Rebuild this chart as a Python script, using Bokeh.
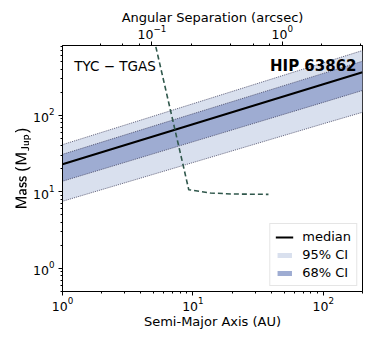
from bokeh.plotting import figure
from bokeh.models import (LogAxis, Range1d, LogScale, Label, Legend, LegendItem,
                          ColumnDataSource)
from bokeh.embed import file_html
from bokeh.resources import INLINE

# ---- data ----
sma_au = [1, 10, 100, 200]
mass_median = [23, 76.6, 255, 367]
mass_lo95 = [7.55, 24.2, 77.8, 110]
mass_hi95 = [41.5, 142, 487, 705]
mass_lo68 = [13.8, 45.2, 148, 212]
mass_hi68 = [31, 105, 354, 511]

limit_sma_au = [4.88, 9.3, 13.6, 20, 38]
limit_mass = [1260, 10.7, 9.7, 9.4, 9.3]

distance_pc = 48.5
x_limits = (1, 200)
y_limits = (0.5, 820)

FONT = "DejaVu Sans"
C95 = "#d9e0ee"
C68 = "#9eacd2"
EDGE = "#3d3d5c"
LIMIT = "#2f574b"

src = ColumnDataSource(dict(a=sma_au, med=mass_median, lo95=mass_lo95, hi95=mass_hi95,
                            lo68=mass_lo68, hi68=mass_hi68))
lim = ColumnDataSource(dict(a=limit_sma_au, m=limit_mass))

p = figure(frame_width=300, frame_height=246, x_axis_type="log", y_axis_type="log",
           x_range=Range1d(*x_limits), y_range=Range1d(*y_limits),
           output_backend="svg", toolbar_location=None,
           min_border_left=62, min_border_right=12, min_border_top=45, min_border_bottom=44)

p.extra_x_ranges = {"ang": Range1d(x_limits[0] / distance_pc, x_limits[1] / distance_pc)}
p.extra_x_scales = {"ang": LogScale()}
top = LogAxis(x_range_name="ang", axis_label="Angular Separation (arcsec)")
p.add_layout(top, "above")

r95 = p.varea(x="a", y1="lo95", y2="hi95", source=src, fill_color=C95)
r68 = p.varea(x="a", y1="lo68", y2="hi68", source=src, fill_color=C68)
for col in ["lo95", "hi95", "lo68", "hi68"]:
    p.line(x="a", y=col, source=src, line_color=EDGE, line_width=0.8, line_dash="1 1")
rmed = p.line(x="a", y="med", source=src, line_color="black", line_width=2)
p.line(x="a", y="m", source=lim, line_color=LIMIT, line_width=1.6, line_dash="5 3")

p.xgrid.visible = False
p.ygrid.visible = False
p.outline_line_color = "black"
p.outline_line_width = 1
p.background_fill_color = "white"
p.border_fill_color = "white"

bottom = p.below[0]
left = p.left[0]
bottom.axis_label = "Semi-Major Axis (AU)"
left.axis_label = r"$$\mathsf{Mass\ (M_{Jup})}$$"

for ax in [bottom, left, top]:
    ax.axis_label_text_font = FONT
    ax.axis_label_text_font_style = "normal"
    ax.axis_label_text_font_size = "13px"
    ax.axis_label_text_color = "black"
    ax.major_label_text_font = FONT
    ax.major_label_text_font_size = "12.5px"
    ax.major_label_text_color = "black"
    ax.major_tick_out = 4
    ax.major_tick_in = 0
    ax.minor_tick_out = 2
    ax.minor_tick_in = 0
    ax.axis_line_color = "black"
    ax.major_tick_line_color = "black"
    ax.minor_tick_line_color = "black"

bottom.major_label_standoff = 1
bottom.axis_label_standoff = 0
top.major_label_standoff = 3
top.axis_label_standoff = -3
left.major_label_standoff = 4
left.axis_label_standoff = -1

p.add_layout(Label(x=1.23, y=436, text="TYC \u2212 TGAS", text_font=FONT,
                   text_font_size="13.5px", text_color="black",
                   text_baseline="middle", text_align="left"))
p.add_layout(Label(x=180, y=436, text="HIP 63862", text_font=FONT,
                   text_font_size="15px", text_font_style="bold", text_color="black",
                   text_baseline="middle", text_align="right"))

legend = Legend(items=[LegendItem(label="median", renderers=[rmed]),
                       LegendItem(label="95% CI", renderers=[r95]),
                       LegendItem(label="68% CI", renderers=[r68])],
                location="bottom_right", margin=5, padding=5, spacing=3,
                glyph_width=18, glyph_height=6, label_standoff=9,
                label_text_font=FONT, label_text_font_size="13px",
                label_text_color="black",
                border_line_color="#cccccc", border_line_width=1,
                background_fill_alpha=0.85)
p.add_layout(legend, "center")

open("out.html", "w").write(file_html(p, INLINE))
